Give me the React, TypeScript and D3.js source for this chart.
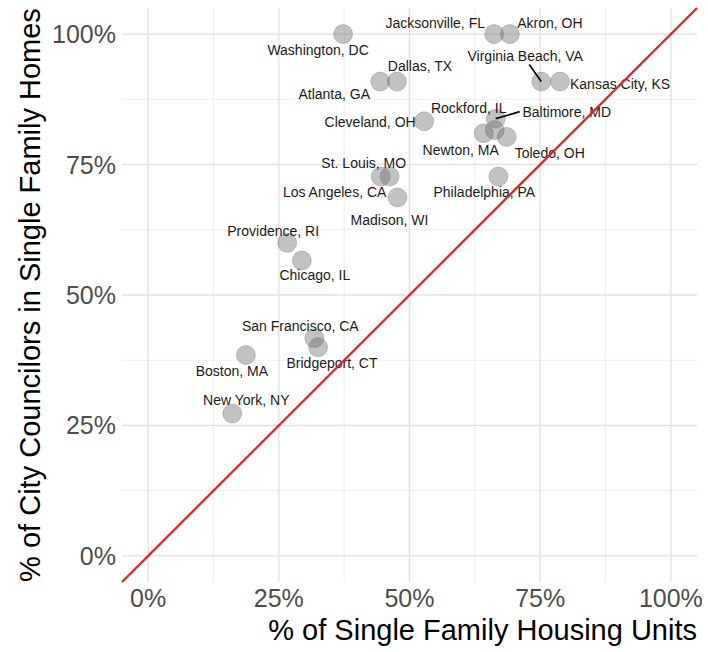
import React from "react";
import * as d3 from "d3";

// city council data: share of single family housing units vs share of councilors in SF homes
const cities = [
  "Jacksonville, FL", "Akron, OH", "Washington, DC", "Dallas, TX", "Atlanta, GA",
  "Virginia Beach, VA", "Kansas City, KS", "Rockford, IL", "Baltimore, MD", "Cleveland, OH",
  "Newton, MA", "Toledo, OH", "St. Louis, MO", "Los Angeles, CA", "Philadelphia, PA",
  "Madison, WI", "Providence, RI", "Chicago, IL", "San Francisco, CA", "Bridgeport, CT",
  "Boston, MA", "New York, NY",
];
const sfUnits = [
  0.662, 0.692, 0.373, 0.476, 0.444,
  0.752, 0.788, 0.663, 0.665, 0.528,
  0.642, 0.686, 0.445, 0.462, 0.670,
  0.477, 0.266, 0.294, 0.318, 0.325,
  0.187, 0.161,
];
const sfCouncil = [
  1.0, 1.0, 1.0, 0.909, 0.909,
  0.909, 0.909, 0.816, 0.838, 0.833,
  0.81, 0.803, 0.727, 0.727, 0.727,
  0.687, 0.60, 0.566, 0.417, 0.40,
  0.385, 0.273,
];
const tickValues = [0, 0.25, 0.5, 0.75, 1];
const minorValues = [0.125, 0.375, 0.625, 0.875];

// repelled label placement (pixel offsets from the point), leader segments where drawn
const labelOffset: Record<string, [number, number]> = {
  "Jacksonville, FL": [-59, -11],
  "Akron, OH": [40, -11],
  "Washington, DC": [-25, 16],
  "Dallas, TX": [23, -15],
  "Atlanta, GA": [-46, 13],
  "Virginia Beach, VA": [-16, -25],
  "Kansas City, KS": [60, 3],
  "Rockford, IL": [-26, -22],
  "Baltimore, MD": [71, -7],
  "Cleveland, OH": [-54, 1],
  "Newton, MA": [-23, 17],
  "Toledo, OH": [43, 16],
  "St. Louis, MO": [-17, -13],
  "Los Angeles, CA": [-55, 16],
  "Philadelphia, PA": [-14, 16],
  "Madison, WI": [-8, 23],
  "Providence, RI": [-14, -12],
  "Chicago, IL": [13, 15],
  "San Francisco, CA": [-14, -12],
  "Bridgeport, CT": [14, 16],
  "Boston, MA": [-14, 16],
  "New York, NY": [14, -13],
};
const segmentFrom: Record<string, [number, number]> = {
  "Virginia Beach, VA": [-12, -17],
  "Baltimore, MD": [24, -7],
};

const W = 708;
const H = 652;
const panel = { left: 122, right: 697, top: 8, bottom: 582 };
const font = "'Liberation Sans', Arial, sans-serif";

export default function App() {
  const x = d3.scaleLinear().domain([-0.05, 1.05]).range([panel.left, panel.right]);
  const y = d3.scaleLinear().domain([-0.05, 1.05]).range([panel.bottom, panel.top]);
  const pct = d3.format(".0%");

  const points = cities.map((c, i) => ({ name: c, px: x(sfUnits[i]), py: y(sfCouncil[i]) }));

  return (
    <svg width={W} height={H} style={{ position: "absolute", left: 0, top: 0, background: "#fff" }}>
      {/* grid */}
      <g>
        {minorValues.map((v) => (
          <g key={"mn" + v}>
            <line x1={x(v)} x2={x(v)} y1={panel.top} y2={panel.bottom} stroke="#ececec" strokeWidth={0.9} />
            <line x1={panel.left} x2={panel.right} y1={y(v)} y2={y(v)} stroke="#ececec" strokeWidth={0.9} />
          </g>
        ))}
        {tickValues.map((v) => (
          <g key={"mj" + v}>
            <line x1={x(v)} x2={x(v)} y1={panel.top} y2={panel.bottom} stroke="#e2e2e2" strokeWidth={1.4} />
            <line x1={panel.left} x2={panel.right} y1={y(v)} y2={y(v)} stroke="#e2e2e2" strokeWidth={1.4} />
          </g>
        ))}
      </g>

      {/* axis tick labels */}
      <g fontFamily={font} fontSize={25} fill="#4d4d4d">
        {tickValues.map((v) => (
          <text key={"xt" + v} x={x(v)} y={607} textAnchor="middle">{pct(v)}</text>
        ))}
        {tickValues.map((v) => (
          <text key={"yt" + v} x={116} y={y(v)} dy="0.36em" textAnchor="end">{pct(v)}</text>
        ))}
      </g>

      {/* axis titles */}
      <g fontFamily={font} fontSize={29} fill="#000">
        <text x={panel.right} y={640} textAnchor="end">% of Single Family Housing Units</text>
        <text
          transform={`translate(40,${(panel.top + panel.bottom) / 2}) rotate(-90)`}
          textAnchor="middle"
        >
          % of City Councilors in Single Family Homes
        </text>
      </g>

      {/* points */}
      <g>
        {points.map((p) => (
          <circle key={p.name} cx={p.px} cy={p.py} r={9.5} fill="#666" fillOpacity={0.4}
            stroke="#666" strokeOpacity={0.3} strokeWidth={1} />
        ))}
      </g>

      {/* leader segments */}
      <g stroke="#000" strokeWidth={1.6}>
        {points.filter((p) => segmentFrom[p.name]).map((p) => (
          <line key={"s" + p.name} x1={p.px + segmentFrom[p.name][0]} y1={p.py + segmentFrom[p.name][1]}
            x2={p.px} y2={p.py} />
        ))}
      </g>

      {/* labels */}
      <g fontFamily={font} fontSize={14} fill="#1a1a1a">
        {points.map((p) => (
          <text key={"l" + p.name} x={p.px + labelOffset[p.name][0]} y={p.py + labelOffset[p.name][1]}
            dy="0.35em" textAnchor="middle">{p.name}</text>
        ))}
      </g>

      {/* y = x reference line */}
      <line x1={x(-0.05)} y1={y(-0.05)} x2={x(1.05)} y2={y(1.05)} stroke="#ee1c1c" strokeWidth={2.2} />
    </svg>
  );
}
